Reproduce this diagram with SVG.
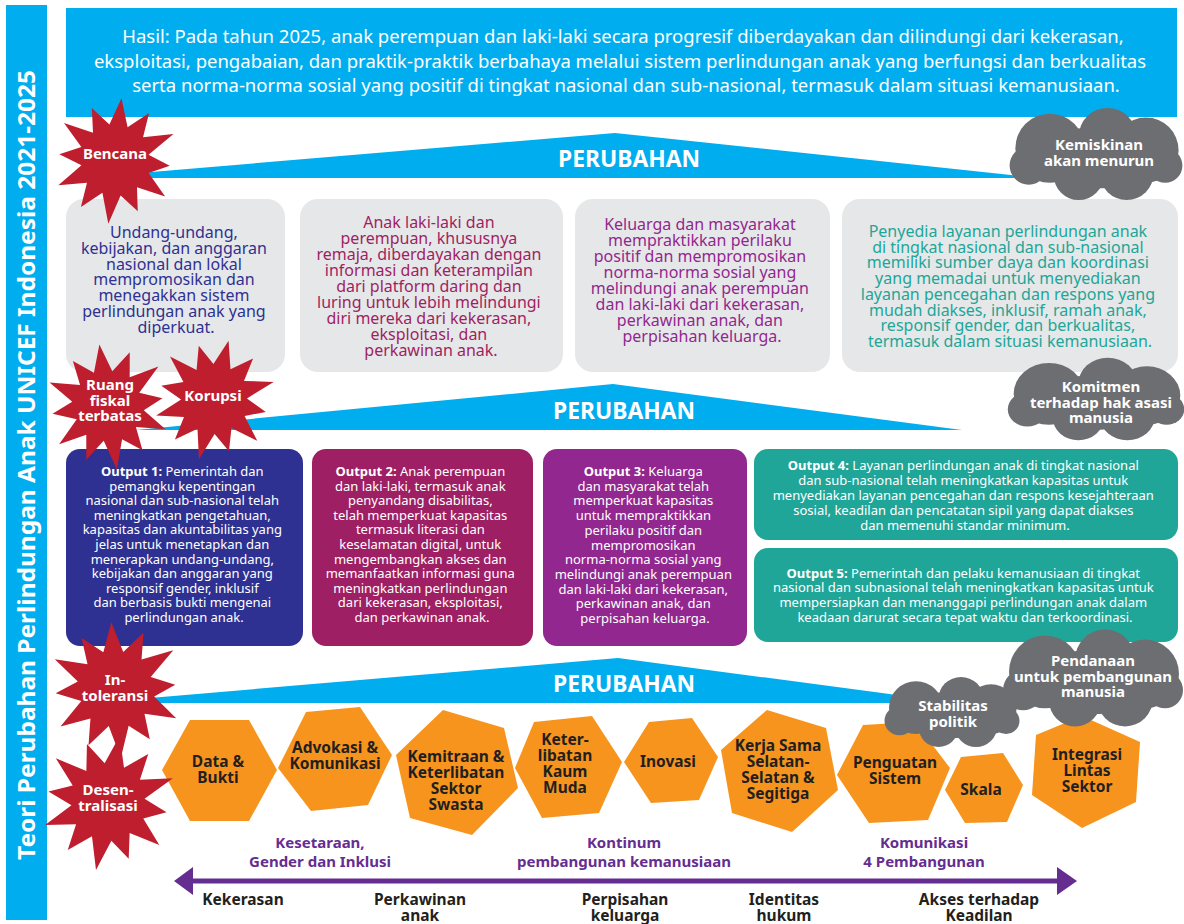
<svg xmlns="http://www.w3.org/2000/svg" xmlns:xlink="http://www.w3.org/1999/xlink" width="1184" height="924" viewBox="0 0 1184 924">
  <style>
    text { font-family: 'Noto Sans', 'Open Sans', 'DejaVu Sans', sans-serif; text-anchor: middle; }
    .hasil { font-size: 18.5px; fill: #fff; }
    .band { fill: #00AEEF; }
    .bandlbl { font-size: 24px; font-weight: 700; fill: #fff; }
    .gbox { fill: #E6E7E8; }
    .gtxt { font-size: 16px; }
    .otxt { font-size: 13px; fill: #fff; }
    .otxt tspan.b { font-weight: 700; }
    .hex { fill: #F7941D; }
    .hextxt { font-size: 15.5px; font-weight: 700; fill: #231F20; }
    .wlbl { font-size: 15px; font-weight: 700; fill: #fff; }
    .plbl { font-size: 15px; font-weight: 700; fill: #662D91; }
    .klbl { font-size: 15.5px; font-weight: 700; fill: #231F20; }
  </style>
  <defs>
    <!-- irregular 12-point burst used for the risk badges -->
    <polygon id="star" points="0,-62 9.1,-33.8 29,-50.2 25.5,-25.5 55.4,-32 32.8,-8.8 55,0 34.8,9.3 53.7,31 24.7,24.7 28,48.5 9.3,34.8 0,64 -9.1,33.8 -29,50.2 -25.5,25.5 -53.7,31 -32.8,8.8 -56,0 -34.8,-9.3 -54.6,-31.5 -24.7,-24.7 -28.5,-49.4 -9.3,-34.8"/>
    <!-- cloud built from overlapping circles, bbox about 180 x 96 -->
    <g id="cloud">
      <ellipse cx="0" cy="4" rx="62" ry="32"/>
      <circle cx="-48" cy="-6" r="36"/>
      <circle cx="12" cy="-18" r="30"/>
      <circle cx="52" cy="-4" r="34"/>
      <circle cx="-70" cy="12" r="20"/>
      <circle cx="72" cy="12" r="18"/>
      <circle cx="-18" cy="22" r="26"/>
      <circle cx="32" cy="20" r="28"/>
    </g>
  </defs>

  <rect width="1184" height="924" fill="#fff"/>

  <!-- vertical title bar -->
  <g id="title-bar">
    <rect x="6" y="5" width="41" height="915" fill="#00AEEF"/>
    <text transform="translate(35,465) rotate(-90)" font-size="23" font-weight="700" fill="#fff" textLength="790" lengthAdjust="spacingAndGlyphs">Teori Perubahan Perlindungan Anak UNICEF Indonesia 2021-2025</text>
  </g>

  <!-- outcome banner -->
  <g id="hasil">
    <rect x="66" y="8" width="1111" height="109" fill="#00AEEF"/>
    <text class="hasil" x="623" y="43">Hasil: Pada tahun 2025, anak perempuan dan laki-laki secara progresif diberdayakan dan dilindungi dari kekerasan,</text>
    <text class="hasil" x="620" y="68">eksploitasi, pengabaian, dan praktik-praktik berbahaya melalui sistem perlindungan anak yang berfungsi dan berkualitas</text>
    <text class="hasil" x="626" y="92">serta norma-norma sosial yang positif di tingkat nasional dan sub-nasional, termasuk dalam situasi kemanusiaan.</text>
  </g>

  <!-- change bands -->
  <g id="connectors">
    <polygon class="band" points="80,178 615,133 1040,178"/>
    <text class="bandlbl" x="629" y="167" textLength="142" lengthAdjust="spacingAndGlyphs">PERUBAHAN</text>
    <polygon class="band" points="136,430 613,384 962,430"/>
    <text class="bandlbl" x="624" y="419" textLength="142" lengthAdjust="spacingAndGlyphs">PERUBAHAN</text>
    <polygon class="band" points="91,703 618,658 957,703"/>
    <text class="bandlbl" x="624" y="692" textLength="142" lengthAdjust="spacingAndGlyphs">PERUBAHAN</text>
    <!-- continuum arrow -->
    <line x1="188" y1="881" x2="1062" y2="881" stroke="#662D91" stroke-width="5"/>
    <polygon points="174,881 193,867 193,895" fill="#662D91"/>
    <polygon points="1077,881 1057,867 1057,895" fill="#662D91"/>
  </g>

  <!-- intermediate outcomes -->
  <g id="outcome-1">
    <rect class="gbox" x="66" y="199" width="219" height="173" rx="18"/>
    <text class="gtxt" fill="#2E3192">
      <tspan x="176" y="238">Undang-undang,</tspan>
      <tspan x="176" dy="15.8">kebijakan, dan anggaran</tspan>
      <tspan x="176" dy="15.8">nasional dan lokal</tspan>
      <tspan x="176" dy="15.8">mempromosikan dan</tspan>
      <tspan x="176" dy="15.8">menegakkan sistem</tspan>
      <tspan x="176" dy="15.8">perlindungan anak yang</tspan>
      <tspan x="176" dy="15.8">diperkuat.</tspan>
    </text>
  </g>
  <g id="outcome-2">
    <rect class="gbox" x="300" y="199" width="263" height="173" rx="18"/>
    <text class="gtxt" fill="#9E1F63">
      <tspan x="431" y="228">Anak laki-laki dan</tspan>
      <tspan x="431" dy="16">perempuan, khususnya</tspan>
      <tspan x="431" dy="16">remaja, diberdayakan dengan</tspan>
      <tspan x="431" dy="16">informasi dan keterampilan</tspan>
      <tspan x="431" dy="16">dari platform daring dan</tspan>
      <tspan x="431" dy="16">luring untuk lebih melindungi</tspan>
      <tspan x="431" dy="16">diri mereka dari kekerasan,</tspan>
      <tspan x="431" dy="16">eksploitasi, dan</tspan>
      <tspan x="431" dy="16">perkawinan anak.</tspan>
    </text>
  </g>
  <g id="outcome-3">
    <rect class="gbox" x="575" y="199" width="255" height="173" rx="18"/>
    <text class="gtxt" fill="#92278F">
      <tspan x="702" y="230">Keluarga dan masyarakat</tspan>
      <tspan x="702" dy="16">mempraktikkan perilaku</tspan>
      <tspan x="702" dy="16">positif dan mempromosikan</tspan>
      <tspan x="702" dy="16">norma-norma sosial yang</tspan>
      <tspan x="702" dy="16">melindungi anak perempuan</tspan>
      <tspan x="702" dy="16">dan laki-laki dari kekerasan,</tspan>
      <tspan x="702" dy="16">perkawinan anak, dan</tspan>
      <tspan x="702" dy="16">perpisahan keluarga.</tspan>
    </text>
  </g>
  <g id="outcome-4">
    <rect class="gbox" x="842" y="199" width="336" height="173" rx="18"/>
    <text class="gtxt" fill="#20A699">
      <tspan x="1010" y="237">Penyedia layanan perlindungan anak</tspan>
      <tspan x="1010" dy="15.7">di tingkat nasional dan sub-nasional</tspan>
      <tspan x="1010" dy="15.7">memiliki sumber daya dan koordinasi</tspan>
      <tspan x="1010" dy="15.7">yang memadai untuk menyediakan</tspan>
      <tspan x="1010" dy="15.7">layanan pencegahan dan respons yang</tspan>
      <tspan x="1010" dy="15.7">mudah diakses, inklusif, ramah anak,</tspan>
      <tspan x="1010" dy="15.7">responsif gender, dan berkualitas,</tspan>
      <tspan x="1010" dy="15.7">termasuk dalam situasi kemanusiaan.</tspan>
    </text>
  </g>

  <!-- outputs -->
  <g id="output-1">
    <rect x="66" y="449" width="237" height="197" rx="14" fill="#2E3192"/>
    <text class="otxt">
      <tspan x="184" y="476"><tspan class="b">Output 1:</tspan> Pemerintah dan</tspan>
      <tspan x="184" dy="14.6">pemangku kepentingan</tspan>
      <tspan x="184" dy="14.6">nasional dan sub-nasional telah</tspan>
      <tspan x="184" dy="14.6">meningkatkan pengetahuan,</tspan>
      <tspan x="184" dy="14.6">kapasitas dan akuntabilitas yang</tspan>
      <tspan x="184" dy="14.6">jelas untuk menetapkan dan</tspan>
      <tspan x="184" dy="14.6">menerapkan undang-undang,</tspan>
      <tspan x="184" dy="14.6">kebijakan dan anggaran yang</tspan>
      <tspan x="184" dy="14.6">responsif gender, inklusif</tspan>
      <tspan x="184" dy="14.6">dan berbasis bukti mengenai</tspan>
      <tspan x="184" dy="14.6">perlindungan anak.</tspan>
    </text>
  </g>
  <g id="output-2">
    <rect x="312" y="449" width="221" height="197" rx="14" fill="#9E1F63"/>
    <text class="otxt">
      <tspan x="422" y="476"><tspan class="b">Output 2:</tspan> Anak perempuan</tspan>
      <tspan x="422" dy="14.6">dan laki-laki, termasuk anak</tspan>
      <tspan x="422" dy="14.6">penyandang disabilitas,</tspan>
      <tspan x="422" dy="14.6">telah memperkuat kapasitas</tspan>
      <tspan x="422" dy="14.6">termasuk literasi dan</tspan>
      <tspan x="422" dy="14.6">keselamatan digital, untuk</tspan>
      <tspan x="422" dy="14.6">mengembangkan akses dan</tspan>
      <tspan x="422" dy="14.6">memanfaatkan informasi guna</tspan>
      <tspan x="422" dy="14.6">meningkatkan perlindungan</tspan>
      <tspan x="422" dy="14.6">dari kekerasan, eksploitasi,</tspan>
      <tspan x="422" dy="14.6">dan perkawinan anak.</tspan>
    </text>
  </g>
  <g id="output-3">
    <rect x="543" y="449" width="204" height="197" rx="14" fill="#92278F"/>
    <text class="otxt">
      <tspan x="645" y="476"><tspan class="b">Output 3:</tspan> Keluarga</tspan>
      <tspan x="645" dy="14.7">dan masyarakat telah</tspan>
      <tspan x="645" dy="14.7">memperkuat kapasitas</tspan>
      <tspan x="645" dy="14.7">untuk mempraktikkan</tspan>
      <tspan x="645" dy="14.7">perilaku positif dan</tspan>
      <tspan x="645" dy="14.7">mempromosikan</tspan>
      <tspan x="645" dy="14.7">norma-norma sosial yang</tspan>
      <tspan x="645" dy="14.7">melindungi anak perempuan</tspan>
      <tspan x="645" dy="14.7">dan laki-laki dari kekerasan,</tspan>
      <tspan x="645" dy="14.7">perkawinan anak, dan</tspan>
      <tspan x="645" dy="14.7">perpisahan keluarga.</tspan>
    </text>
  </g>
  <g id="output-4">
    <rect x="754" y="449" width="424" height="91" rx="14" fill="#20A699"/>
    <text class="otxt">
      <tspan x="965" y="469.5"><tspan class="b">Output 4:</tspan> Layanan perlindungan anak di tingkat nasional</tspan>
      <tspan x="965" dy="15">dan sub-nasional telah meningkatkan kapasitas untuk</tspan>
      <tspan x="965" dy="15">menyediakan layanan pencegahan dan respons kesejahteraan</tspan>
      <tspan x="965" dy="15">sosial, keadilan dan pencatatan sipil yang dapat diakses</tspan>
      <tspan x="965" dy="15">dan memenuhi standar minimum.</tspan>
    </text>
  </g>
  <g id="output-5">
    <rect x="754" y="548" width="424" height="94" rx="14" fill="#20A699"/>
    <text class="otxt">
      <tspan x="965" y="577.5"><tspan class="b">Output 5:</tspan> Pemerintah dan pelaku kemanusiaan di tingkat</tspan>
      <tspan x="965" dy="14.7">nasional dan subnasional telah meningkatkan kapasitas untuk</tspan>
      <tspan x="965" dy="14.7">mempersiapkan dan menanggapi perlindungan anak dalam</tspan>
      <tspan x="965" dy="14.7">keadaan darurat secara tepat waktu dan terkoordinasi.</tspan>
    </text>
  </g>

  <!-- strategy hexagons -->
  <g id="hex-data">
    <polygon class="hex" points="162,770 190,720 249,720 277,770 249,821 190,821"/>
    <text class="hextxt"><tspan x="218" y="767">Data &amp;</tspan><tspan x="218" dy="16">Bukti</tspan></text>
  </g>
  <g id="hex-advokasi">
    <polygon class="hex" points="278,768 306,712 360,707 392,755 368,805 311,811"/>
    <text class="hextxt"><tspan x="335" y="753">Advokasi &amp;</tspan><tspan x="335" dy="16">Komunikasi</tspan></text>
  </g>
  <g id="hex-kemitraan">
    <polygon class="hex" points="443,710 504,728 518,788 472,835 410,818 396,755"/>
    <text class="hextxt"><tspan x="456" y="762">Kemitraan &amp;</tspan><tspan x="456" dy="16">Keterlibatan</tspan><tspan x="456" dy="16">Sektor</tspan><tspan x="456" dy="16">Swasta</tspan></text>
  </g>
  <g id="hex-kaum-muda">
    <polygon class="hex" points="515,768 534,722 592,716 622,762 599,813 542,818"/>
    <text class="hextxt"><tspan x="565" y="745">Keter-</tspan><tspan x="565" dy="16">libatan</tspan><tspan x="565" dy="16">Kaum</tspan><tspan x="565" dy="16">Muda</tspan></text>
  </g>
  <g id="hex-inovasi">
    <polygon class="hex" points="624,762 649,722 692,718 718,757 699,800 651,803"/>
    <text class="hextxt" x="668" y="767">Inovasi</text>
  </g>
  <g id="hex-kerja-sama">
    <polygon class="hex" points="767,710 826,728 838,790 792,832 732,813 721,750"/>
    <text class="hextxt"><tspan x="778" y="751">Kerja Sama</tspan><tspan x="778" dy="16">Selatan-</tspan><tspan x="778" dy="16">Selatan &amp;</tspan><tspan x="778" dy="16">Segitiga</tspan></text>
  </g>
  <g id="hex-penguatan">
    <polygon class="hex" points="837,775 863,725 915,722 950,768 928,820 869,823"/>
    <text class="hextxt"><tspan x="895" y="768">Penguatan</tspan><tspan x="895" dy="16">Sistem</tspan></text>
  </g>
  <g id="hex-skala">
    <polygon class="hex" points="945,790 961,757 1003,753 1023,785 1007,822 965,823"/>
    <text class="hextxt" x="981" y="795">Skala</text>
  </g>
  <g id="hex-integrasi">
    <polygon class="hex" points="1082,716 1140,742 1136,802 1082,828 1032,795 1036,735"/>
    <text class="hextxt"><tspan x="1087" y="760">Integrasi</tspan><tspan x="1087" dy="16">Lintas</tspan><tspan x="1087" dy="16">Sektor</tspan></text>
  </g>

  <!-- cross-cutting themes -->
  <g id="tema-kesetaraan">
    <text class="plbl"><tspan x="320" y="848">Kesetaraan,</tspan><tspan x="320" dy="19">Gender dan Inklusi</tspan></text>
  </g>
  <g id="tema-kontinum">
    <text class="plbl"><tspan x="624" y="848">Kontinum</tspan><tspan x="624" dy="19">pembangunan kemanusiaan</tspan></text>
  </g>
  <g id="tema-komunikasi">
    <text class="plbl"><tspan x="924" y="848">Komunikasi</tspan><tspan x="924" dy="19">4 Pembangunan</tspan></text>
  </g>

  <!-- continuum labels -->
  <g id="isu-kekerasan"><text class="klbl" x="243" y="905">Kekerasan</text></g>
  <g id="isu-perkawinan"><text class="klbl"><tspan x="420" y="905">Perkawinan</tspan><tspan x="420" dy="16">anak</tspan></text></g>
  <g id="isu-perpisahan"><text class="klbl"><tspan x="625" y="905">Perpisahan</tspan><tspan x="625" dy="16">keluarga</tspan></text></g>
  <g id="isu-identitas"><text class="klbl"><tspan x="784" y="905">Identitas</tspan><tspan x="784" dy="16">hukum</tspan></text></g>
  <g id="isu-akses"><text class="klbl"><tspan x="979" y="905">Akses terhadap</tspan><tspan x="979" dy="16">Keadilan</tspan></text></g>

  <!-- risks -->
  <g id="risk-bencana">
    <use href="#star" fill="#BE1E2D" transform="translate(115,160) rotate(6)"/>
    <text class="wlbl" x="115" y="159">Bencana</text>
  </g>
  <g id="risk-ruang-fiskal">
    <use href="#star" fill="#BE1E2D" transform="translate(108,406) rotate(-8)"/>
    <text class="wlbl"><tspan x="110" y="390">Ruang</tspan><tspan x="110" dy="15.5">fiskal</tspan><tspan x="110" dy="15.5">terbatas</tspan></text>
  </g>
  <g id="risk-korupsi">
    <use href="#star" fill="#BE1E2D" transform="translate(214,399) rotate(14) scale(0.97)"/>
    <text class="wlbl" x="213" y="401">Korupsi</text>
  </g>
  <g id="risk-intoleransi">
    <use href="#star" fill="#BE1E2D" transform="translate(116,689) rotate(-4) scale(1.08)"/>
    <text class="wlbl"><tspan x="115" y="685">In-</tspan><tspan x="115" dy="15.5">toleransi</tspan></text>
  </g>
  <g id="risk-desentralisasi">
    <use href="#star" fill="#BE1E2D" transform="translate(108,802) rotate(10) scale(1.08)"/>
    <text class="wlbl"><tspan x="108" y="795">Desen-</tspan><tspan x="108" dy="15.5">tralisasi</tspan></text>
  </g>

  <!-- assumptions -->
  <g id="asumsi-kemiskinan">
    <use href="#cloud" fill="#6D6E71" transform="translate(1096,154) scale(0.96)"/>
    <text class="wlbl"><tspan x="1099" y="150">Kemiskinan</tspan><tspan x="1099" dy="16">akan menurun</tspan></text>
  </g>
  <g id="asumsi-komitmen">
    <use href="#cloud" fill="#6D6E71" transform="translate(1096,399) scale(0.98,0.86)"/>
    <text class="wlbl"><tspan x="1101" y="392">Komitmen</tspan><tspan x="1101" dy="15.5">terhadap hak asasi</tspan><tspan x="1101" dy="15.5">manusia</tspan></text>
  </g>
  <g id="asumsi-pendanaan">
    <use href="#cloud" fill="#6D6E71" transform="translate(1093,678) scale(1.0,1.01)"/>
    <text class="wlbl"><tspan x="1093" y="666">Pendanaan</tspan><tspan x="1093" dy="15.5">untuk pembangunan</tspan><tspan x="1093" dy="15.5">manusia</tspan></text>
  </g>
  <g id="asumsi-stabilitas">
    <use href="#cloud" fill="#6D6E71" transform="translate(952,712) scale(0.75,0.73)"/>
    <text class="wlbl"><tspan x="953" y="711">Stabilitas</tspan><tspan x="953" dy="16">politik</tspan></text>
  </g>
</svg>
